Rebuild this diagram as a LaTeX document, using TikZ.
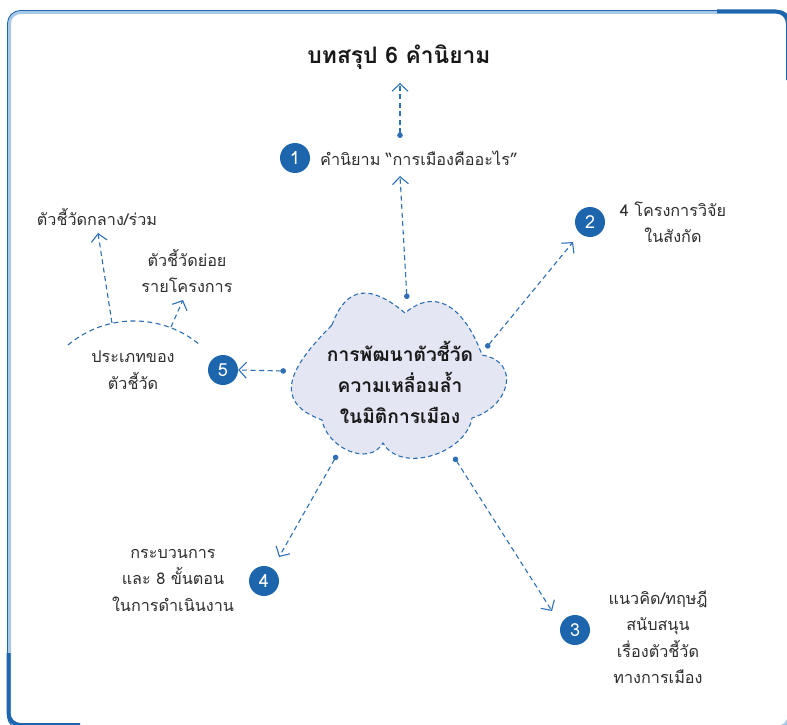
\documentclass[tikz,border=0pt]{standalone}
\usepackage{fontspec}
\setmainfont[Script=Thai]{Loma}
\usetikzlibrary{arrows.meta}
\definecolor{dblue}{HTML}{1D65AC}
\definecolor{ablue}{HTML}{2E6FB5}
\definecolor{lblue}{HTML}{A8C8E8}
\definecolor{cloudfill}{HTML}{E4E6F4}
\definecolor{txt}{HTML}{2E2E2E}
\begin{document}
\begin{tikzpicture}[x=1pt,y=1pt,
  conn/.style={ablue, line width=1.1pt, dash pattern=on 5pt off 3.5pt,
    {Circle[length=5.5pt]}-{Straight Barb[length=7.5pt,width=16pt,line width=1.1pt]}},
  plain/.style={ablue, line width=1.1pt, dash pattern=on 5pt off 3.5pt,
    -{Straight Barb[length=7.5pt,width=16pt,line width=1.1pt]}},
  numc/.style={circle, fill=dblue, minimum size=30pt, inner sep=0pt, text=white,
    font=\fontsize{18}{18}\selectfont},
  lab/.style={text=txt, align=center, inner sep=0pt, font=\fontsize{16.2}{26.5}\selectfont},
]
\useasboundingbox (0,0) rectangle (787,-725);
\fill[white] (0,0) rectangle (787,-725);
% frame
\draw[lblue, line width=3pt, rounded corners=11pt] (9.5,-12.5) rectangle (789,-727);
\draw[dblue, line width=0.9pt, rounded corners=13pt] (7.5,-10.5) rectangle (791,-729);
\draw[dblue, line width=4pt, rounded corners=12pt] (717,-11.5) -- (788,-11.5) -- (788,-80);
\draw[dblue, line width=4pt, rounded corners=12pt] (8.5,-653) -- (8.5,-725) -- (80,-725);

% cloud
\draw[ablue, fill=cloudfill, line width=1.1pt, dash pattern=on 4.5pt off 3pt]
  (332,-325) to[out=70,in=140,looseness=1.5] (405,-313)
  to[out=40,in=110,looseness=1.3] (482,-355)
  to[out=-10,in=17,looseness=1.6] (472,-418)
  to[out=-100,in=-60,looseness=1.0] (383,-443)
  to[out=-120,in=-80,looseness=1.1] (322,-420)
  to[out=160,in=225,looseness=1.5] (332,-325) -- cycle;
\node[text=black!90, align=center, inner sep=0pt, font=\bfseries\fontsize{19.2}{31}\selectfont]
  (cloudtext) at (400,-382) {การพัฒนาตัวชี้วัด\\ความเหลื่อมล้ำ\\ในมิติการเมือง};

% title
\node[text=black!90, inner sep=0pt, font=\bfseries\fontsize{22.8}{23}\selectfont] (title) at (399,-57) {บทสรุป 6 คำนิยาม};
\coordinate (h0) at (400,-83);
\coordinate (d0) at (400,-138);
\draw[conn] (d0) -- (h0);

% 1
\node[numc] (n1) at (295,-158) {1};
\node[lab, anchor=west] (l1) at (320,-158) {คำนิยาม “การเมืองคืออะไร”};
\coordinate (d1) at (407,-299);
\coordinate (h1) at (400,-176);
\draw[conn] (d1) -- (h1);

% 2
\node[numc] (n2) at (590,-222) {2};
\node[lab] (l2) at (673,-222) {4 โครงการวิจัย\\ในสังกัด};
\coordinate (d2) at (486,-348);
\coordinate (h2) at (573,-242);
\draw[conn] (d2) -- (h2);

% 3
\node[numc] (n3) at (575,-630) {3};
\node[lab] (l3) at (658,-637) {แนวคิด/ทฤษฎี\\สนับสนุน\\เรื่องตัวชี้วัด\\ทางการเมือง};
\coordinate (d3) at (454,-457);
\coordinate (h3) at (552,-611);
\draw[conn] (d3) -- (h3);

% 4
\node[numc] (n4) at (264,-581) {4};
\node[lab] (l4) at (173,-580) {กระบวนการ\\และ 8 ขั้นตอน\\ในการดำเนินงาน};
\coordinate (d4) at (337,-455);
\coordinate (h4) at (279,-557);
\draw[conn] (d4) -- (h4);

% 5
\node[numc] (n5) at (223,-370) {5};
\coordinate (d5) at (286,-371);
\draw[conn] (d5) -- (n5.east);
\node[lab] (l5) at (133,-370) {ประเภทของ\\ตัวชี้วัด};
\draw[ablue, line width=1.1pt, dash pattern=on 5pt off 3.5pt]
  (68,-345) arc[start angle=130, end angle=50, radius=102.75];
\coordinate (a1) at (112,-323);
\coordinate (a2) at (171,-327);
\coordinate (h5a) at (98,-233);
\coordinate (h5b) at (183,-300);
\draw[plain] (a1) -- (h5a);
\draw[plain] (a2) -- (h5b);
\node[lab] (l5a) at (97,-217) {ตัวชี้วัดกลาง/ร่วม};
\node[lab] (l5b) at (187,-271) {ตัวชี้วัดย่อย\\รายโครงการ};
\end{tikzpicture}
\end{document}
